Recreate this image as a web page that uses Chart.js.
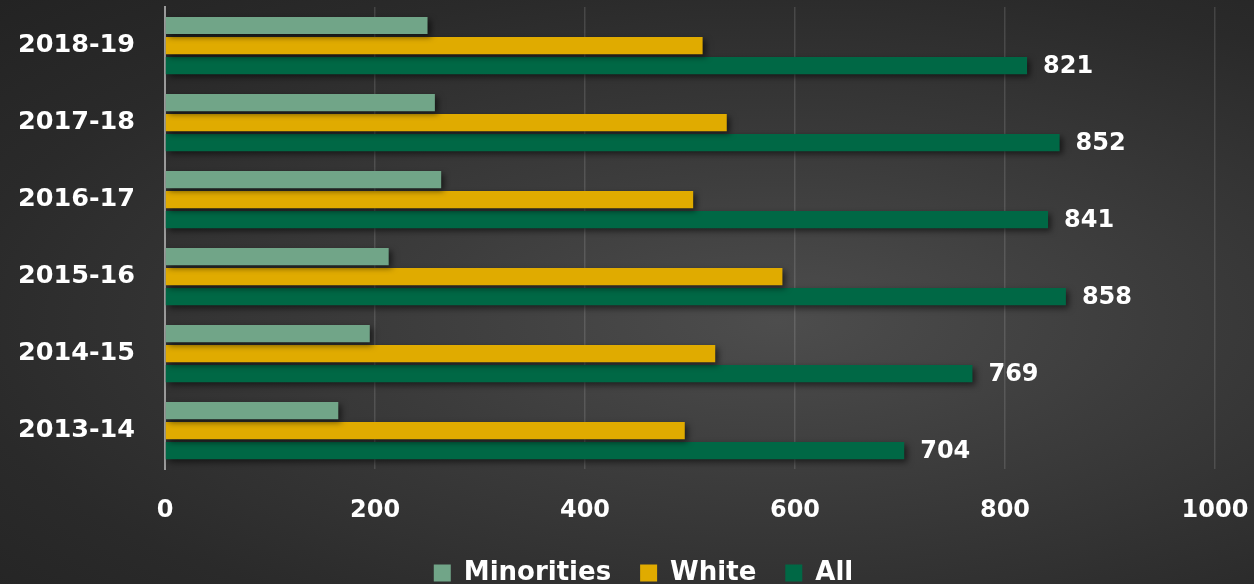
<!DOCTYPE html>
<html lang="en">
<head>
    <meta charset="UTF-8">
    <title>Enrollment by Year</title>
    <script src="https://cdn.jsdelivr.net/npm/chart.js"></script>
    <style>
        html, body { margin: 0; padding: 0; }
        body {
            width: 1254px;
            height: 584px;
            overflow: hidden;
            background: radial-gradient(ellipse at 62% 55%, #4d4d4d 0%, #3c3c3c 35%, #2a2a2a 75%, #232323 100%);
        }
        .chart-box { position: relative; width: 1254px; height: 584px; }
    </style>
</head>
<body>
    <div class="chart-box">
        <canvas id="enrollChart"></canvas>
    </div>

    <script>
        // Data (top to bottom as shown)
        const years = ['2018-19', '2017-18', '2016-17', '2015-16', '2014-15', '2013-14'];
        const minorities = [250, 257, 263, 213, 195, 165];
        const white = [512, 535, 503, 588, 524, 495];
        const all = [821, 852, 841, 858, 769, 704];
        const xTicks = [0, 200, 400, 600, 800, 1000];

        const FONT = '"DejaVu Sans", Arial, sans-serif';

        // soft drop shadow behind the bars
        const barShadow = {
            id: 'barShadow',
            beforeDatasetsDraw(chart) {
                const ctx = chart.ctx;
                ctx.save();
                ctx.shadowColor = 'rgba(0, 0, 0, 0.55)';
                ctx.shadowBlur = 6;
                ctx.shadowOffsetX = 3;
                ctx.shadowOffsetY = 3;
            },
            afterDatasetsDraw(chart) {
                chart.ctx.restore();
            }
        };

        // value labels on the "All" bars
        const allLabels = {
            id: 'allLabels',
            afterDraw(chart) {
                const ctx = chart.ctx;
                const meta = chart.getDatasetMeta(2);
                ctx.save();
                ctx.fillStyle = '#ffffff';
                ctx.font = 'bold 24px ' + FONT;
                ctx.textAlign = 'left';
                ctx.textBaseline = 'middle';
                meta.data.forEach((bar, i) => {
                    ctx.fillText(String(all[i]), bar.x + 16, bar.y + 1);
                });
                ctx.restore();
            }
        };

        // legend sits centred under the canvas, not under the plot
        const legendShift = {
            id: 'legendShift',
            afterLayout(chart) {
                if (chart.legend) {
                    chart.legend.left += 42;
                    chart.legend.right += 42;
                }
            }
        };

        new Chart(document.getElementById('enrollChart').getContext('2d'), {
            type: 'bar',
            data: {
                labels: years,
                datasets: [
                    { label: 'Minorities', data: minorities, backgroundColor: '#71a588' },
                    { label: 'White', data: white, backgroundColor: '#e0ab00' },
                    { label: 'All', data: all, backgroundColor: '#006845' }
                ]
            },
            options: {
                indexAxis: 'y',
                responsive: true,
                maintainAspectRatio: false,
                animation: false,
                categoryPercentage: 0.78,
                barPercentage: 0.86,
                layout: { padding: { left: -12, right: 39, top: 7, bottom: -12 } },
                scales: {
                    x: {
                        min: 0,
                        max: 1000,
                        afterBuildTicks(axis) {
                            axis.ticks = xTicks.map(v => ({ value: v }));
                        },
                        afterFit(axis) {
                            axis.height -= 21;
                            axis.paddingLeft = 0;
                            axis.paddingRight = 0;
                        },
                        grid: {
                            color: 'rgba(255, 255, 255, 0.13)',
                            lineWidth: 1.5,
                            drawTicks: false
                        },
                        border: { display: false },
                        ticks: {
                            color: '#ffffff',
                            padding: 27,
                            callback: v => String(v),
                            font: { family: FONT, size: 24, weight: 'bold' }
                        }
                    },
                    y: {
                        afterFit(axis) {
                            axis.paddingTop = 0;
                            axis.paddingBottom = 0;
                        },
                        grid: { display: false, drawTicks: false },
                        border: { display: true, color: '#9a9a9a', width: 2 },
                        ticks: {
                            color: '#ffffff',
                            padding: 30,
                            font: { family: FONT, size: 25.5, weight: 'bold' }
                        }
                    }
                },
                plugins: {
                    legend: {
                        position: 'bottom',
                        labels: {
                            color: '#ffffff',
                            boxWidth: 17,
                            boxHeight: 17,
                            padding: 29,
                            font: { family: FONT, size: 26, weight: 'bold' }
                        }
                    },
                    tooltip: { enabled: false }
                }
            },
            plugins: [barShadow, allLabels, legendShift]
        });
    </script>
</body>
</html>
